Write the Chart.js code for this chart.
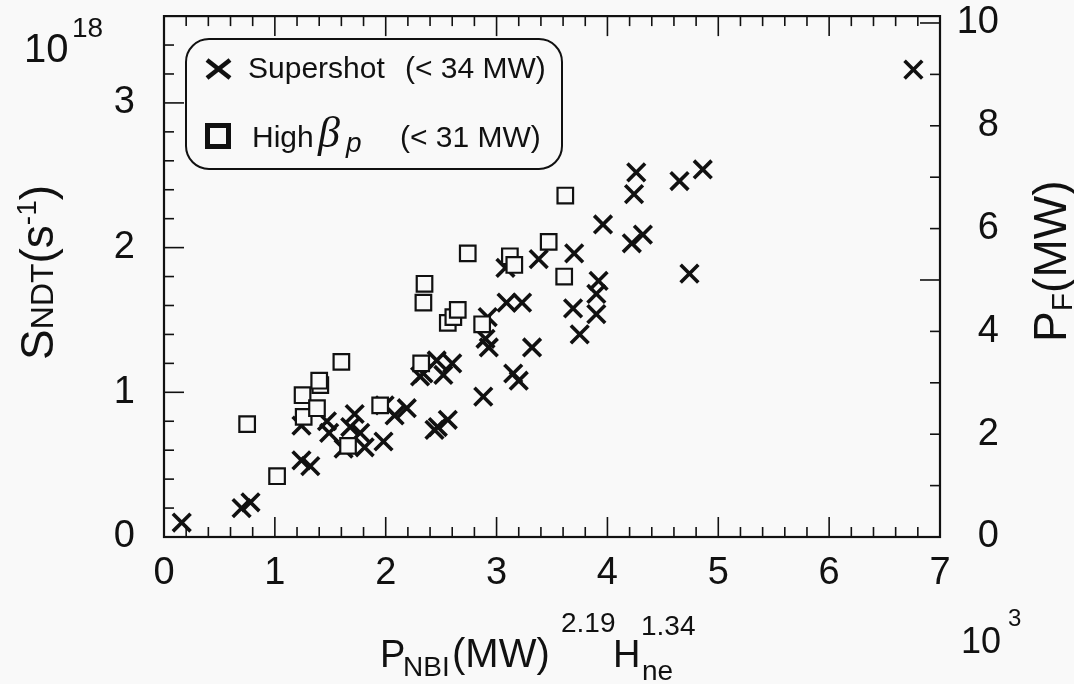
<!DOCTYPE html>
<html><head><meta charset="utf-8">
<script src="https://cdn.jsdelivr.net/npm/chart.js@4.4.1/dist/chart.umd.min.js"></script>
<style>
html,body{margin:0;padding:0;background:#f9f9f9;}
#wrap{position:relative;width:1074px;height:684px;overflow:hidden;background:#f9f9f9;font-family:"Liberation Sans",Arial,Helvetica,sans-serif;color:#111;}
#c{position:absolute;left:0;top:0;}
.t{position:absolute;white-space:nowrap;line-height:1;color:#111;}
#legend{position:absolute;left:185px;top:38px;width:378px;height:132px;border:2px solid #111;border-radius:24px;box-sizing:border-box;}
#marks{position:absolute;left:0;top:0;pointer-events:none;}
</style></head><body>
<div id="wrap">
<canvas id="c" width="1074" height="684"></canvas>
<div id="legend"></div>
<svg id="marks" width="1074" height="684">
  <line x1="207" y1="60" x2="230" y2="78" stroke="#111" stroke-width="4.5"/>
  <line x1="207" y1="78" x2="230" y2="60" stroke="#111" stroke-width="4.5"/>
  <rect x="207.5" y="125.5" width="21" height="21" fill="none" stroke="#111" stroke-width="5"/>
</svg>
</div>
<script>
// ---- data (x in 10^3 units, y in 10^18 s^-1) ----
const supershotX = [0.16,0.70,0.78,1.24,1.32,1.24,1.47,1.49,1.68,1.72,1.77,1.62,1.81,1.98,1.99,2.08,2.19,2.44,2.47,2.56,2.34,2.31,2.46,2.52,2.60,2.88,2.90,2.93,2.92,3.09,3.23,3.08,3.38,3.70,3.15,3.20,3.32,3.69,3.75,3.90,3.90,3.92,3.96,4.22,4.32,4.24,4.26,4.65,4.86,4.74,6.76];
const supershotY = [0.10,0.20,0.24,0.53,0.49,0.77,0.80,0.72,0.76,0.85,0.72,0.61,0.62,0.66,0.91,0.84,0.89,0.74,0.76,0.81,1.13,1.11,1.22,1.12,1.20,0.97,1.37,1.31,1.52,1.62,1.62,1.86,1.92,1.96,1.13,1.08,1.31,1.58,1.40,1.68,1.54,1.77,2.16,2.03,2.09,2.37,2.52,2.46,2.54,1.82,3.23];
const highBetaX = [0.75,1.02,1.26,1.25,1.38,1.41,1.40,1.60,1.66,1.95,2.32,2.34,2.35,2.56,2.61,2.65,2.74,2.87,3.12,3.16,3.47,3.61,3.62];
const highBetaY = [0.78,0.42,0.83,0.98,0.89,1.05,1.08,1.21,0.63,0.91,1.20,1.62,1.75,1.48,1.52,1.57,1.96,1.47,1.94,1.88,2.04,1.80,2.36];
const xTickLabels = [0,1,2,3,4,5,6,7];
const leftTickLabels = [0,1,2,3];
const rightTickLabels = [0,2,4,6,8,10];
const MW_PER_1E18 = 2.815;   // fusion power per 10^18 DT neutrons/s
const X_MAX = 7, Y_MAX = 3.6;

const FAM = '"Liberation Sans", Arial, Helvetica, sans-serif';
const wrap = document.getElementById('wrap');

function pts(xs, ys){ return xs.map((x,i)=>({x:x, y:ys[i]})); }

const frameTicks = {
  id:'frameTicks',
  afterDraw(chart){
    const {ctx, chartArea:a} = chart;
    const sx = chart.scales.x, sy = chart.scales.y, sy2 = chart.scales.y2;
    ctx.save();
    ctx.strokeStyle = '#111';
    const line = (x1,y1,x2,y2)=>{ctx.beginPath();ctx.moveTo(x1,y1);ctx.lineTo(x2,y2);ctx.stroke();};
    ctx.lineWidth = 1.6;
    for (let i=0;i<=X_MAX*5;i++){
      const px = sx.getPixelForValue(i/5);
      const L = i%5===0 ? 20 : 10;
      line(px,a.bottom,px,a.bottom-L);
      line(px,a.top,px,a.top+L);
    }
    for (let i=0;i<=Math.round(Y_MAX*5);i++){
      const py = sy.getPixelForValue(i/5);
      const L = i%5===0 ? 20 : 10;
      line(a.left,py,a.left+L,py);
    }
    for (let v=0; v<=10; v++){
      const py = sy2.getPixelForValue(v);
      const L = v%5===0 ? 20 : 10;
      line(a.right,py,a.right-L,py);
    }
    ctx.lineWidth = 2.2;
    ctx.strokeRect(a.left, a.top, a.right-a.left, a.bottom-a.top);
    ctx.restore();
  }
};

const tickFont = {family:FAM, size:38, lineHeight:1};
function noPad(s){ s.paddingTop = 0; s.paddingBottom = 0; s.paddingLeft = 0; s.paddingRight = 0; }

new Chart(document.getElementById('c'), {
  type:'scatter',
  data:{datasets:[
    {label:'High βp (< 31 MW)', data:pts(highBetaX, highBetaY), order:0,
     pointStyle:'rect', pointRadius:11, borderColor:'#111', backgroundColor:'#f9f9f9', borderWidth:2.2},
    {label:'Supershot (< 34 MW)', data:pts(supershotX, supershotY), order:1,
     pointStyle:'crossRot', pointRadius:12.5, borderColor:'#111', backgroundColor:'#111', borderWidth:3.6}
  ]},
  options:{
    responsive:false, animation:false, devicePixelRatio:1,
    layout:{padding:{left:0,right:75,top:15,bottom:0}},
    plugins:{legend:{display:false}, tooltip:{enabled:false}},
    scales:{
      x:{type:'linear', position:'bottom', min:0, max:X_MAX,
         afterBuildTicks:s=>{s.ticks = xTickLabels.map(v=>({value:v}));},
         afterFit:s=>{s.height = 147; noPad(s);},
         grid:{display:false, drawTicks:false}, border:{display:false},
         ticks:{padding:18, font:tickFont, color:'#111', callback:v=>String(v)}},
      y:{type:'linear', position:'left', min:0, max:Y_MAX,
         afterBuildTicks:s=>{s.ticks = leftTickLabels.map(v=>({value:v}));},
         afterFit:s=>{s.width = 164; noPad(s);},
         grid:{display:false, drawTicks:false}, border:{display:false},
         ticks:{padding:29, font:tickFont, color:'#111', callback:v=>String(v)}},
      y2:{type:'linear', position:'right', min:0, max:Y_MAX*MW_PER_1E18,
         afterBuildTicks:s=>{s.ticks = rightTickLabels.map(v=>({value:v}));},
         afterFit:s=>{s.width = 59; noPad(s);},
         grid:{display:false, drawTicks:false}, border:{display:false},
         ticks:{padding:4, crossAlign:'far', font:tickFont, color:'#111', callback:v=>String(v)}}
    }
  },
  plugins:[frameTicks]
});

// ---- text helpers (real DOM text) ----
function txt(html, x, base, size, opt){
  opt = opt || {};
  const d = document.createElement('div');
  d.className = 't';
  d.innerHTML = html;
  d.style.fontSize = size+'px';
  if (opt.family) d.style.fontFamily = opt.family;
  if (opt.italic) d.style.fontStyle = 'italic';
  const asc = (opt.asc || 0.846)*size;
  d.style.left = x+'px';
  d.style.top = (base-asc)+'px';
  if (opt.rot){ d.style.transformOrigin = '0px '+asc+'px'; d.style.transform = 'rotate(-90deg)'; }
  wrap.appendChild(d);
  return d;
}

// exponent on left axis
txt('10', 24, 62, 40);
txt('18', 72, 38, 28);
// left axis title (rotated)
txt('S<span style="font-size:32px">NDT</span>(s<span style="font-size:28px;position:relative;top:-17px">-1</span>)', 53, 360, 46, {rot:true});
// right axis title (rotated)
txt('P<span style="font-size:30px;position:relative;top:6px">F</span>(MW)', 1066, 342, 46, {rot:true});
// bottom axis title
txt('P', 380, 667, 38);
txt('NBI', 403, 677, 28);
txt('(MW)', 452, 667, 40);
txt('2.19', 561, 633, 28);
txt('H', 613, 667, 38);
txt('ne', 642, 681, 28);
txt('1.34', 641, 636, 28);
// x multiplier
txt('10', 961, 653, 36);
txt('3', 1008, 626, 24);
// legend texts
txt('Supershot', 248, 78, 30);
txt('(&lt; 34 MW)', 405, 78, 30);
txt('High', 252, 147, 30);
txt('β', 318, 148, 44, {family:'"Liberation Serif","DejaVu Serif",serif', italic:true, asc:0.8375});
txt('p', 346, 153, 28, {italic:true});
txt('(&lt; 31 MW)', 400, 147, 30);
</script>
</body></html>
